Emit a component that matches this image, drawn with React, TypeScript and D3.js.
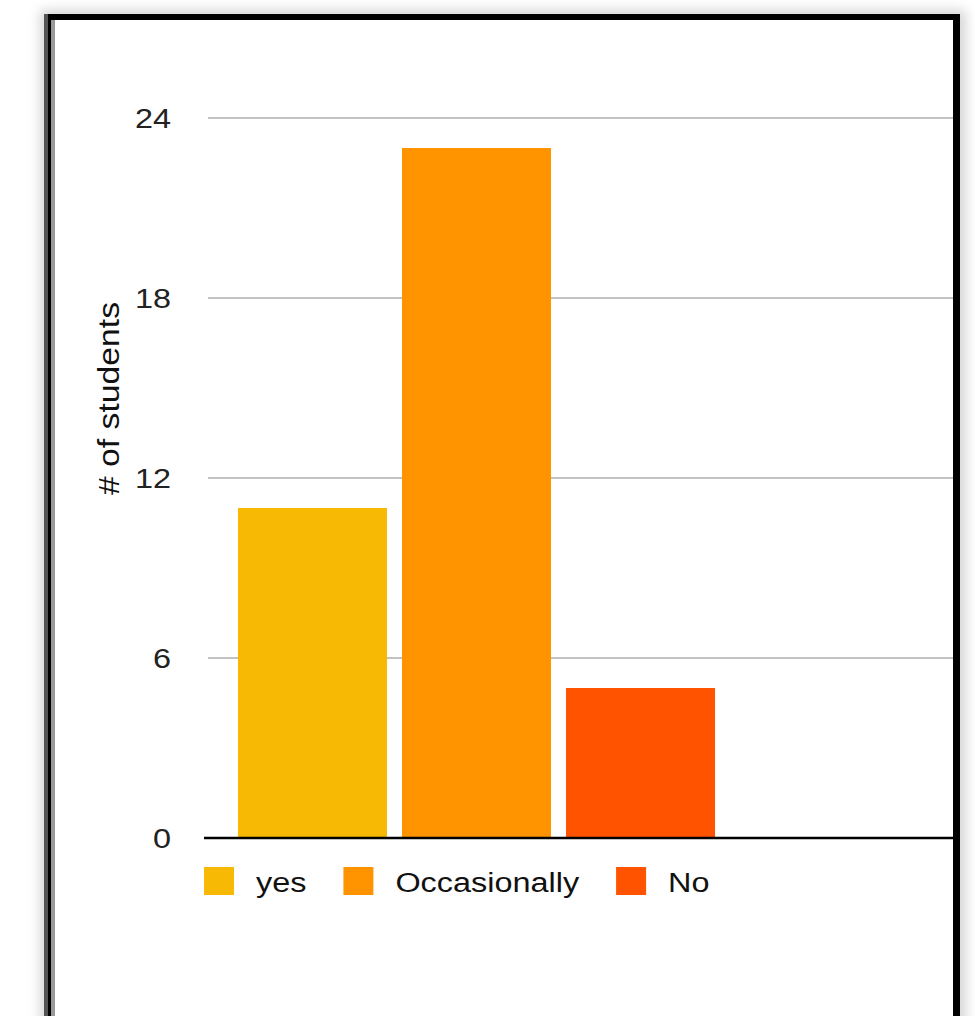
import React from "react";
import * as d3 from "d3";

const categories = ["yes", "Occasionally", "No"];
const values = [11, 23, 5];
const colors = ["#F8B904", "#FF9400", "#FF5300"];
const tickValues = [0, 6, 12, 18, 24];
const yTitle = "# of students";

const W = 975;
const H = 1016;
const plotLeft = 204;
const plotRight = 953;
const plotTop = 118;
const plotBottom = 838;

export default function App() {
  const y = d3.scaleLinear().domain([0, 24]).range([plotBottom, plotTop]);
  const x = d3
    .scaleBand<string>()
    .domain(categories)
    .range([plotLeft, 749])
    .paddingInner(0.0915)
    .paddingOuter(0.207);

  const font = "'Liberation Sans', Arial, sans-serif";

  // legend layout: text stretched horizontally like the reference
  const stretch = 1.2;
  const fs = 27;
  const measure = (s: string) => {
    const c = document.createElement("canvas").getContext("2d")!;
    c.font = `${fs}px 'Liberation Sans', Arial, sans-serif`;
    return c.measureText(s).width * stretch;
  };
  let lx = plotLeft;
  const legendItems = categories.map((c, i) => {
    const sx = lx;
    const tx = sx + 52;
    const tw = measure(c);
    lx = tx + tw + 37;
    return { c, i, sx, tx, tw };
  });

  return (
    <svg
      width={W}
      height={H}
      style={{ position: "absolute", left: 0, top: 0, background: "#fff" }}
      fontFamily={font}
    >
      <defs>
        <filter id="sh" x="-10%" y="-10%" width="120%" height="120%">
          <feGaussianBlur stdDeviation="6" />
        </filter>
      </defs>
      {/* frame shadow */}
      <rect x={40} y={10} width={926} height={1040} fill="#d6d6d6" filter="url(#sh)" />
      <rect x={44} y={14} width={916} height={1030} fill="#fff" />
      {/* frame borders */}
      <rect x={44} y={14} width={916} height={6} fill="#000" />
      <rect x={44} y={14} width={4} height={1010} fill="#555" />
      <rect x={48} y={14} width={3} height={1010} fill="#000" />
      <rect x={51} y={20} width={4} height={1010} fill="#999" />
      <rect x={953} y={14} width={7} height={1010} fill="#000" />

      {/* gridlines */}
      {tickValues
        .filter((t) => t !== 0)
        .map((t) => (
          <line
            key={t}
            x1={208}
            x2={plotRight}
            y1={y(t)}
            y2={y(t)}
            stroke="#c2c2c2"
            strokeWidth={2}
          />
        ))}
      {/* tick labels */}
      {tickValues.map((t) => (
        <text
          key={t}
          transform={`translate(171, ${y(t)}) scale(${stretch},1)`}
          dy="0.36em"
          textAnchor="end"
          fontSize={fs}
          fill="#222"
        >
          {t}
        </text>
      ))}

      {/* bars */}
      {categories.map((c, i) => (
        <rect
          key={c}
          x={x(c)}
          y={y(values[i])}
          width={x.bandwidth()}
          height={y(0) - y(values[i])}
          fill={colors[i]}
        />
      ))}

      {/* baseline */}
      <line x1={plotLeft} x2={plotRight} y1={plotBottom} y2={plotBottom} stroke="#000" strokeWidth={2.5} />

      {/* y axis title */}
      <text
        transform={`translate(119, ${(302 + 495) / 2}) rotate(-90)`}
        textAnchor="middle"
        fontSize={30}
        fill="#111"
        textLength={193}
        lengthAdjust="spacingAndGlyphs"
      >
        {yTitle}
      </text>

      {/* legend */}
      {legendItems.map(({ c, i, sx, tx, tw }) => (
        <g key={c}>
          <rect x={sx} y={867} width={30} height={28} fill={colors[i]} />
          <text
            x={tx}
            y={892}
            fontSize={fs}
            fill="#111"
            textLength={tw}
            lengthAdjust="spacingAndGlyphs"
          >
            {c}
          </text>
        </g>
      ))}
    </svg>
  );
}
